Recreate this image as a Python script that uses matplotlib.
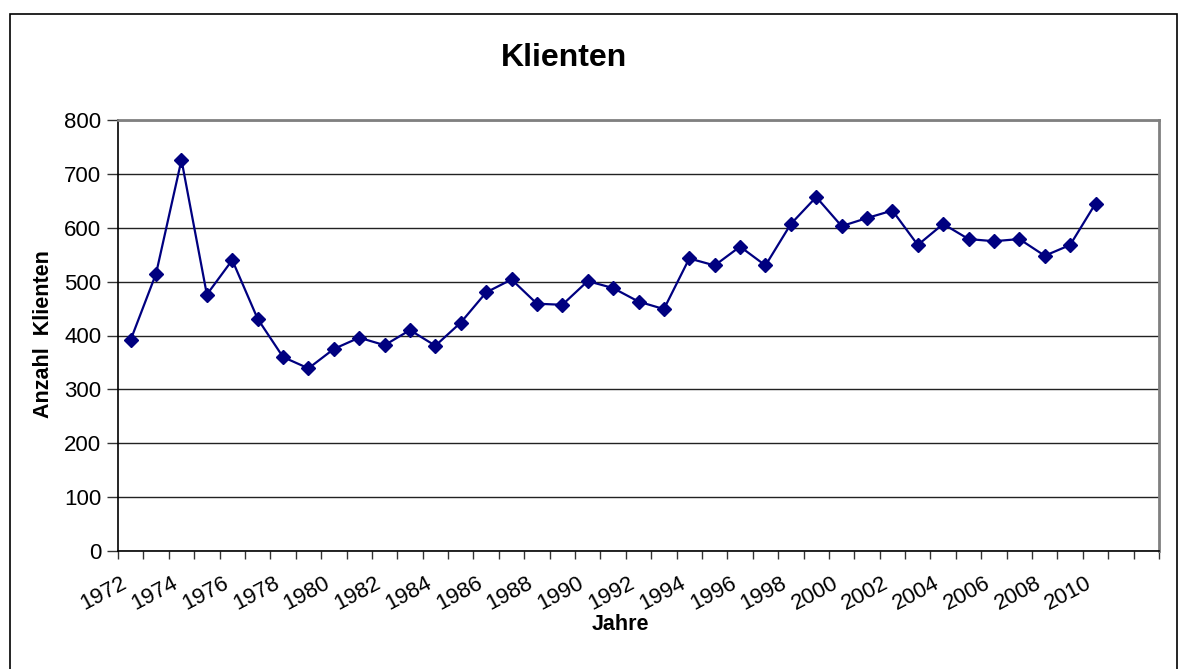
import numpy as np
import matplotlib.pyplot as plt
from matplotlib.patches import Rectangle

plt.rcParams['font.family'] = ['Liberation Sans', 'DejaVu Sans']

# Daten
jahre = list(range(1972, 2011))
klienten = [392, 515, 726, 476, 540, 431, 360, 339, 375, 396,
            382, 410, 381, 424, 480, 504, 459, 457, 501, 488,
            463, 449, 543, 530, 565, 530, 607, 657, 603, 618,
            632, 568, 607, 579, 575, 579, 548, 568, 645]
n_kategorien = 41  # Achse reicht bis 2012
y_ticks = [0, 100, 200, 300, 400, 500, 600, 700, 800]

W, H = 1186, 669
fig = plt.figure(figsize=(W / 100, H / 100), dpi=100)

# Rahmen um das Diagramm
fig.patches.append(Rectangle((10 / W, -0.01), (1177 - 10) / W, (H - 14) / H + 0.01,
                             transform=fig.transFigure, fill=False,
                             edgecolor='black', linewidth=1.2))

ax = fig.add_axes([118 / W, 1 - 551 / H, (1159 - 118) / W, (551 - 120) / H])

x = np.arange(len(klienten))
ax.plot(x, klienten, color='#000080', linewidth=1.6, marker='D',
        markersize=7.5, markerfacecolor='#000080', markeredgecolor='#000080',
        zorder=3)

ax.set_xlim(-0.5, n_kategorien - 0.5)
ax.set_ylim(0, 800)
ax.set_yticks(y_ticks)
ax.set_yticklabels([str(v) for v in y_ticks], fontsize=16)
ax.yaxis.grid(True, color='#222222', linewidth=1.0)
ax.set_axisbelow(True)

# Kategorien-Ticks zwischen den Punkten
ax.set_xticks(np.arange(-0.5, n_kategorien, 1.0))
ax.set_xticklabels([])
ax.tick_params(axis='x', length=6, width=1, color='#333333')
ax.tick_params(axis='y', length=8, width=1, color='#333333', pad=4)

for i in range(0, len(jahre), 2):
    ax.text(i - 0.2, -58, str(jahre[i]), rotation=28, rotation_mode='anchor',
            ha='right', va='center', fontsize=16, transform=ax.transData,
            clip_on=False)

for side in ['left', 'bottom']:
    ax.spines[side].set_color('black')
    ax.spines[side].set_linewidth(1.2)
for side in ['top', 'right']:
    ax.spines[side].set_color('#808080')
    ax.spines[side].set_linewidth(2)

fig.text(564 / W, 1 - 58 / H, 'Klienten', ha='center', va='center',
         fontsize=23, fontweight='bold')
fig.text(620 / W, 1 - 625 / H, 'Jahre', ha='center', va='center',
         fontsize=15.5, fontweight='bold')
fig.text(44 / W, 1 - 334 / H, 'Anzahl  Klienten', ha='center', va='center',
         rotation=90, fontsize=15.5, fontweight='bold')

fig.savefig('out.png', dpi=100)
